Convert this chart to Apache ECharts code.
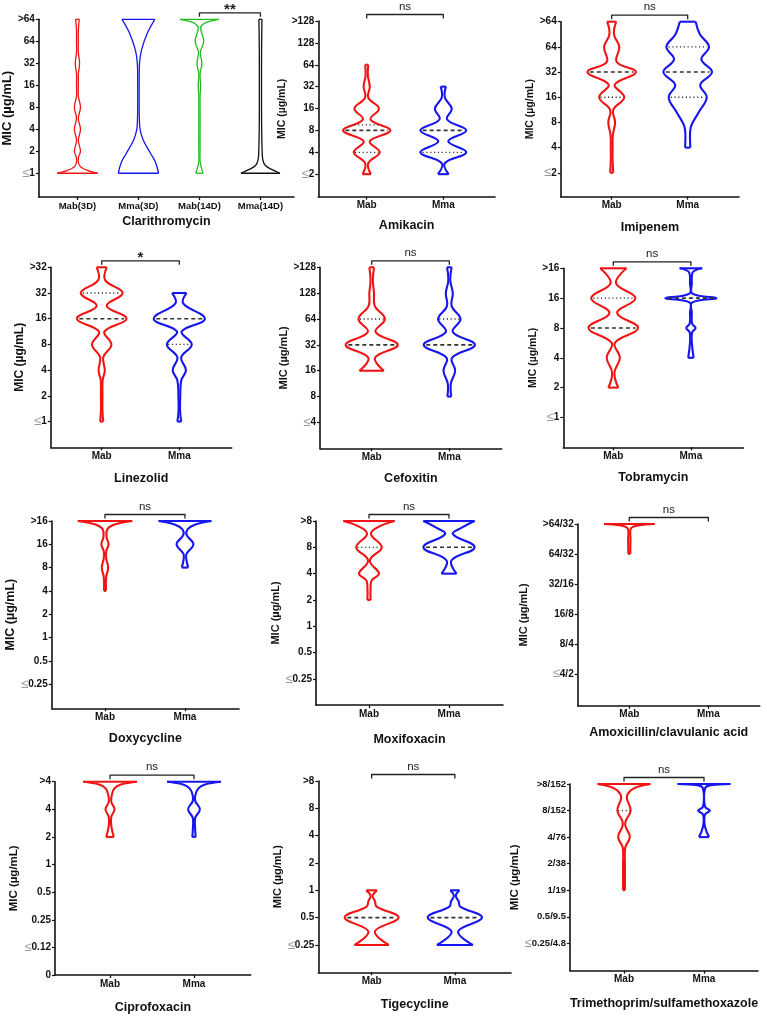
<!DOCTYPE html>
<html>
<head>
<meta charset="utf-8">
<script src="https://cdn.jsdelivr.net/npm/echarts@6/dist/echarts.min.js"></script>
<style>
  body { margin: 0; background: #fff; }
  #main { width: 767px; height: 1019px; }
</style>
</head>
<body>
<div id="main"></div>
<script>
// violin outlines: [level index, half width in category units]
var clarLevels = ['≤1', '2', '4', '8', '16', '32', '64', '>64'];
var clarGroups = ['Mab(3D)', 'Mma(3D)', 'Mab(14D)', 'Mma(14D)'];
var clarMab3 = [[0, 0.33], [0.12, 0.17], [0.3, 0.05], [0.5, 0.015], [0.75, 0.02], [1, 0.05], [1.5, 0.015], [2, 0.05], [2.5, 0.015], [3, 0.05], [3.5, 0.015], [4, 0.015], [4.5, 0.015], [5, 0.035], [5.5, 0.015], [6, 0.015], [6.5, 0.015], [7, 0.03]];
var clarMma3 = [[0, 0.33], [0.5, 0.28], [0.9, 0.2], [1.5, 0.08], [2, 0.027], [2.5, 0.015], [3, 0.012], [4, 0.012], [5, 0.018], [5.6, 0.05], [6.4, 0.15], [7, 0.27]];
var clarMab14 = [[0, 0.06], [0.5, 0.012], [1, 0.01], [2, 0.01], [3, 0.01], [3.5, 0.01], [4, 0.02], [4.5, 0.01], [5, 0.04], [5.5, 0.015], [6, 0.07], [6.6, 0.02], [6.8, 0.07], [6.93, 0.2], [7, 0.32]];
var clarMma14 = [[0, 0.32], [0.15, 0.2], [0.35, 0.08], [0.6, 0.04], [1, 0.028], [2, 0.02], [3, 0.018], [4, 0.018], [5, 0.018], [6, 0.02], [7, 0.025]];

var amiLevels = ['≤2', '4', '8', '16', '32', '64', '128', '>128'];
var amiMab = [[0, 0.055], [0.5, 0.02], [1, 0.17], [1.5, 0.04], [2, 0.31], [2.5, 0.05], [3, 0.16], [3.5, 0.02], [4, 0.04], [4.5, 0.015], [5, 0.02]];
var amiMma = [[0, 0.07], [0.5, 0.02], [1, 0.3], [1.5, 0.065], [2, 0.3], [2.5, 0.05], [3, 0.11], [3.5, 0.02], [4, 0.035]];
var amiMed = [2, 2];
var amiQ = [[1, 2.25], [1]];

var imiLevels = ['≤2', '4', '8', '16', '32', '64', '>64'];
var imiMab = [[0, 0.02], [0.5, 0.012], [1, 0.012], [1.5, 0.015], [2, 0.045], [2.5, 0.02], [3, 0.165], [3.5, 0.04], [4, 0.32], [4.4, 0.066], [5, 0.1], [5.5, 0.03], [6, 0.06]];
var imiMma = [[1, 0.035], [1.5, 0.03], [1.8, 0.04], [2, 0.066], [2.5, 0.165], [3, 0.25], [3.5, 0.165], [4, 0.32], [4.5, 0.18], [5, 0.28], [5.5, 0.16], [6, 0.105]];
var imiMed = [4, 4];
var imiQ = [[3], [3, 5]];

var linLevels = ['≤1', '2', '4', '8', '16', '32', '>32'];
var linMab = [[0, 0.02], [0.4, 0.01], [1, 0.01], [1.6, 0.012], [2, 0.04], [2.5, 0.02], [3, 0.125], [3.5, 0.035], [4, 0.32], [4.5, 0.065], [5, 0.27], [5.5, 0.045], [6, 0.065]];
var linMma = [[0, 0.025], [0.4, 0.01], [1, 0.012], [1.6, 0.025], [2, 0.085], [2.5, 0.025], [3, 0.16], [3.5, 0.03], [4, 0.33], [4.6, 0.05], [5, 0.093]];
var linMed = [4, 4];
var linQ = [[5], [3]];

var cefLevels = ['≤4', '8', '16', '32', '64', '128', '>128'];
var cefMab = [[2, 0.157], [2.5, 0.043], [3, 0.335], [3.5, 0.05], [4, 0.17], [4.5, 0.04], [5, 0.03], [5.5, 0.015], [6, 0.03]];
var cefMma = [[1, 0.025], [1.5, 0.02], [2, 0.075], [2.5, 0.035], [3, 0.33], [3.5, 0.045], [4, 0.145], [4.5, 0.03], [5, 0.045], [5.5, 0.012], [6, 0.03]];
var cefMed = [3, 3];
var cefQ = [[4], [4]];

var tobLevels = ['≤1', '2', '4', '8', '16', '>16'];
var tobMab = [[1, 0.064], [1.5, 0.015], [2, 0.085], [2.5, 0.02], [3, 0.32], [3.5, 0.05], [4, 0.285], [4.5, 0.035], [5, 0.17]];
var tobMma = [[2, 0.035], [2.5, 0.012], [2.85, 0.015], [3, 0.06], [3.15, 0.015], [3.5, 0.012], [3.85, 0.015], [4, 0.33], [4.15, 0.02], [4.5, 0.012], [4.85, 0.02], [4.95, 0.07], [5, 0.145]];
var tobMed = [3, 4];
var tobQ = [[4], []];

var doxLevels = ['≤0.25', '0.5', '1', '2', '4', '8', '16', '>16'];
var doxMab = [[4, 0.012], [4.6, 0.015], [5, 0.04], [5.4, 0.015], [5.7, 0.015], [6, 0.045], [6.3, 0.02], [6.65, 0.03], [6.85, 0.12], [7, 0.34]];
var doxMma = [[5, 0.04], [5.4, 0.015], [5.6, 0.02], [6, 0.105], [6.4, 0.02], [6.65, 0.035], [6.85, 0.13], [7, 0.33]];

var moxLevels = ['≤0.25', '0.5', '1', '2', '4', '8', '>8'];
var moxMab = [[3, 0.02], [3.5, 0.02], [3.75, 0.035], [4, 0.125], [4.4, 0.02], [4.6, 0.025], [5, 0.16], [5.5, 0.025], [5.75, 0.1], [6, 0.32]];
var moxMma = [[4, 0.095], [4.5, 0.03], [5, 0.32], [5.5, 0.05], [5.75, 0.16], [6, 0.32]];
var moxMed = [null, 5];
var moxQ = [[5], []];

var amoLevels = ['≤4/2', '8/4', '16/8', '32/16', '64/32', '>64/32'];
var amoMab = [[4, 0.012], [4.5, 0.015], [4.85, 0.02], [4.95, 0.11], [5, 0.32]];
var amoMma = [];

var cipLevels = ['≤0.12', '0.25', '0.5', '1', '2', '4', '>4'];
var cipMab = [[4, 0.045], [4.4, 0.015], [4.73, 0.015], [5, 0.054], [5.27, 0.015], [5.5, 0.02], [5.75, 0.05], [5.9, 0.13], [6, 0.32]];
var cipMma = [[4, 0.02], [4.4, 0.012], [4.7, 0.015], [5, 0.07], [5.3, 0.015], [5.5, 0.015], [5.75, 0.05], [5.9, 0.13], [6, 0.32]];

var tigLevels = ['≤0.25', '0.5', '1', '2', '4', '8', '>8'];
var tigMab = [[0, 0.206], [0.5, 0.04], [1, 0.324], [1.4, 0.06], [1.6, 0.04], [1.8, 0.012], [2, 0.065]];
var tigMma = [[0, 0.216], [0.5, 0.04], [1, 0.326], [1.4, 0.065], [1.6, 0.045], [1.8, 0.012], [2, 0.055]];
var tigMed = [1, 1];

var triLevels = ['≤0.25/4.8', '0.5/9.5', '1/19', '2/38', '4/76', '8/152', '>8/152'];
var triMab = [[2, 0.012], [3, 0.012], [3.6, 0.015], [4, 0.073], [4.4, 0.02], [4.6, 0.02], [5, 0.083], [5.5, 0.035], [5.75, 0.08], [5.9, 0.17], [6, 0.33]];
var triMma = [[4, 0.063], [4.4, 0.012], [4.85, 0.012], [5, 0.073], [5.15, 0.012], [5.85, 0.015], [5.95, 0.08], [6, 0.33]];
var triQ = [[5], []];

var twoGroups = ['Mab', 'Mma'];
var RED = '#f01414', BLUE = '#1616ee';

var panels = [
  {title: 'Clarithromycin', levels: clarLevels, groups: clarGroups, violins: [clarMab3, clarMma3, clarMab14, clarMma14],
   colors: [RED, BLUE, '#22bb22', '#111111'], sig: [2, 3, '**'],
   box: [36, 19.3, 258, 177.7], x: [-0.632, 3.55], y: [-1.08, 7], tg: 18, yg: 20, yfs: 13, lw: 1.3, xfs: 9.5},
  {title: 'Amikacin', levels: amiLevels, groups: twoGroups, violins: [amiMab, amiMma], med: amiMed, q: amiQ, sig: [0, 1, 'ns'],
   box: [318.3, 21, 176.7, 175.7], x: [-0.632, 1.675], y: [-1.03, 7], tg: 22, yg: 27, yfs: 10.5},
  {title: 'Imipenem', levels: imiLevels, groups: twoGroups, violins: [imiMab, imiMma], med: imiMed, q: imiQ, sig: [0, 1, 'ns'],
   box: [560.7, 21.7, 178.3, 175], x: [-0.671, 1.675], y: [-0.95, 6], tg: 24, yg: 21, yfs: 10.5},
  {title: 'Linezolid', levels: linLevels, groups: twoGroups, violins: [linMab, linMma], med: linMed, q: linQ, sig: [0, 1, '*'],
   box: [50.7, 267.3, 181, 180], x: [-0.657, 1.675], y: [-1, 6], tg: 25, yg: 23, yfs: 12},
  {title: 'Cefoxitin', levels: cefLevels, groups: twoGroups, violins: [cefMab, cefMma], med: cefMed, q: cefQ, sig: [0, 1, 'ns'],
   box: [320, 267.3, 181.7, 181], x: [-0.666, 1.675], y: [-1, 6], tg: 24, yg: 28.5, yfs: 11},
  {title: 'Tobramycin', levels: tobLevels, groups: twoGroups, violins: [tobMab, tobMma], med: tobMed, q: tobQ, sig: [0, 1, 'ns'],
   box: [563.3, 268.3, 180, 179], x: [-0.644, 1.675], y: [-1, 5], tg: 24, yg: 25, yfs: 10.5},
  {title: 'Doxycycline', levels: doxLevels, groups: twoGroups, violins: [doxMab, doxMma], sig: [0, 1, 'ns'],
   box: [51.7, 521, 187.3, 187.3], x: [-0.666, 1.675], y: [-1.04, 7], tg: 24, yg: 34, yfs: 12.5},
  {title: 'Moxifoxacin', levels: moxLevels, groups: twoGroups, violins: [moxMab, moxMma], med: moxMed, q: moxQ, sig: [0, 1, 'ns'],
   box: [316, 521, 187, 184], x: [-0.6625, 1.675], y: [-0.99, 6], tg: 28, yg: 19.5, yfs: 11},
  {title: 'Amoxicillin/clavulanic acid', levels: amoLevels, groups: twoGroups, violins: [amoMab, amoMma], sig: [0, 1, 'ns'],
   box: [577.7, 524, 182, 181.7], x: [-0.653, 1.65], y: [-1.06, 5], tg: 20, yg: 48, yfs: 11},
  {title: 'Ciprofoxacin', levels: cipLevels, groups: twoGroups, violins: [cipMab, cipMma], sig: [0, 1, 'ns'], zero: true,
   box: [55, 781.7, 195.7, 193.3], x: [-0.655, 1.675], y: [-0.99, 6], tg: 26, yg: 35.5, yfs: 11.5},
  {title: 'Tigecycline', levels: tigLevels, groups: twoGroups, violins: [tigMab, tigMma], med: tigMed, sig: [0, 1, 'ns'],
   box: [318.3, 781, 192.7, 191.3], x: [-0.641, 1.675], y: [-1, 6], tg: 26, yg: 22, yfs: 11},
  {title: 'Trimethoprim/sulfamethoxazole', levels: triLevels, groups: twoGroups, violins: [triMab, triMma], q: triQ, sig: [0, 1, 'ns'],
   box: [570, 784, 188, 186.7], x: [-0.675, 1.675], y: [-1.03, 6], tg: 26, yg: 42, yfs: 11.5, yls: 9.5}
];

var FONT = '"Liberation Sans", Arial, sans-serif';

function widthAt(prof, lvl) {
  for (var i = 0; i < prof.length - 1; i++) {
    var a = prof[i], b = prof[i + 1];
    if (lvl >= a[0] && lvl <= b[0]) {
      return a[1] + (b[1] - a[1]) * (lvl - a[0]) / (b[0] - a[0]);
    }
  }
  return prof.length ? prof[prof.length - 1][1] : 0;
}

function lineStyle(c, w, dash) {
  var s = {stroke: c, lineWidth: w, fill: null, lineJoin: 'round'};
  if (dash) s.lineDash = dash;
  return s;
}

function violinItem(p) {
  return function (params, api) {
    var g = api.value(0);
    var prof = p.violins[g];
    var col = p.colors ? p.colors[g] : (g === 0 ? RED : BLUE);
    var lw = p.lw || 2.1;
    var R = [], L = [];
    prof.forEach(function (d) {
      R.push(api.coord([g + d[1], d[0]]));
      L.push(api.coord([g - d[1], d[0]]));
    });
    var n = prof.length - 1;
    var kids = [
      {type: 'polyline', shape: {points: R, smooth: 0.4}, style: lineStyle(col, lw)},
      {type: 'polyline', shape: {points: L, smooth: 0.4}, style: lineStyle(col, lw)},
      {type: 'line', shape: {x1: L[0][0], y1: L[0][1], x2: R[0][0], y2: R[0][1]}, style: lineStyle(col, lw)},
      {type: 'line', shape: {x1: L[n][0], y1: L[n][1], x2: R[n][0], y2: R[n][1]}, style: lineStyle(col, lw)}
    ];
    function hline(lvl, dash, w) {
      var hw = widthAt(prof, lvl) * 0.9;
      var a = api.coord([g - hw, lvl]), b = api.coord([g + hw, lvl]);
      kids.push({type: 'line', shape: {x1: a[0], y1: a[1], x2: b[0], y2: b[1]}, style: lineStyle('#333', w, dash)});
    }
    if (p.med && p.med[g] != null) hline(p.med[g], [4, 3], 1.6);
    if (p.q && p.q[g]) p.q[g].forEach(function (lv) { hline(lv, [1.2, 2.6], 1.3); });
    return {type: 'group', children: kids};
  };
}

function bracketItem(p) {
  return function (params, api) {
    var a = api.coord([api.value(0), p.y[1]]);
    var b = api.coord([api.value(1), p.y[1]]);
    var y = a[1] - 6.5;
    var star = p.sig[2] !== 'ns';
    return {type: 'group', children: [
      {type: 'polyline', shape: {points: [[a[0], y + 4], [a[0], y], [b[0], y], [b[0], y + 4]]}, style: lineStyle('#222', 1.3)},
      {type: 'text', x: (a[0] + b[0]) / 2, y: star ? y + 5 : y - 2,
       style: {text: p.sig[2], align: 'center', verticalAlign: 'bottom', fill: '#222',
               fontSize: star ? 15 : 11.5, fontWeight: star ? 'bold' : 'normal', fontFamily: FONT}}
    ]};
  };
}

var grids = [], xAxes = [], yAxes = [], series = [];
panels.forEach(function (p, k) {
  grids.push({left: p.box[0], top: p.box[1], width: p.box[2], height: p.box[3]});
  var ticks = p.groups.map(function (g, i) { return i; });
  xAxes.push({
    gridIndex: k, type: 'value', min: p.x[0], max: p.x[1],
    splitLine: {show: false},
    axisLine: {show: true, onZero: false, lineStyle: {color: '#111', width: 1.6}},
    axisTick: {show: true, length: 3, customValues: ticks, lineStyle: {color: '#111', width: 1.3}},
    axisLabel: {customValues: ticks, margin: 4, color: '#111', fontWeight: 'bold', fontSize: p.xfs || 10, fontFamily: FONT,
      formatter: function (v) { return p.groups[Math.round(v)] || ''; }},
    name: p.title, nameLocation: 'middle', nameGap: p.tg,
    nameTextStyle: {color: '#111', fontWeight: 'bold', fontSize: 12.5, fontFamily: FONT}
  });
  var yv = p.levels.map(function (s, i) { return i; });
  if (p.zero) yv.unshift(p.y[0]);
  yAxes.push({
    gridIndex: k, type: 'value', min: p.y[0], max: p.y[1],
    splitLine: {show: false},
    axisLine: {show: true, onZero: false, lineStyle: {color: '#111', width: 1.6}},
    axisTick: {show: true, length: 3, customValues: yv, lineStyle: {color: '#111', width: 1.2}},
    axisLabel: {customValues: yv, margin: 4, color: '#111', fontWeight: 'bold', fontSize: p.yls || 10, fontFamily: FONT,
      rich: {le: {color: '#999', fontWeight: 'normal', fontSize: 13, fontFamily: FONT}},
      formatter: function (v) {
        if (p.zero && v < -0.5) return '0';
        var s = p.levels[Math.round(v)];
        if (s == null) return '';
        return s.charAt(0) === '≤' ? '{le|≤}' + s.slice(1) : s;
      }},
    name: 'MIC (µg/mL)', nameLocation: 'middle', nameGap: p.yg,
    nameTextStyle: {color: '#111', fontWeight: 'bold', fontSize: p.yfs, fontFamily: FONT}
  });
  var vdata = [];
  p.violins.forEach(function (v, i) { if (v.length) vdata.push([i, 0]); });
  series.push({
    type: 'custom', xAxisIndex: k, yAxisIndex: k, clip: false, silent: true,
    renderItem: violinItem(p), data: vdata
  });
  series.push({
    type: 'custom', xAxisIndex: k, yAxisIndex: k, clip: false, silent: true,
    renderItem: bracketItem(p), data: [[p.sig[0], p.sig[1]]]
  });
});

var chart = echarts.init(document.getElementById('main'));
chart.setOption({
  animation: false,
  backgroundColor: '#fff',
  grid: grids,
  xAxis: xAxes,
  yAxis: yAxes,
  series: series
});
</script>
</body>
</html>
